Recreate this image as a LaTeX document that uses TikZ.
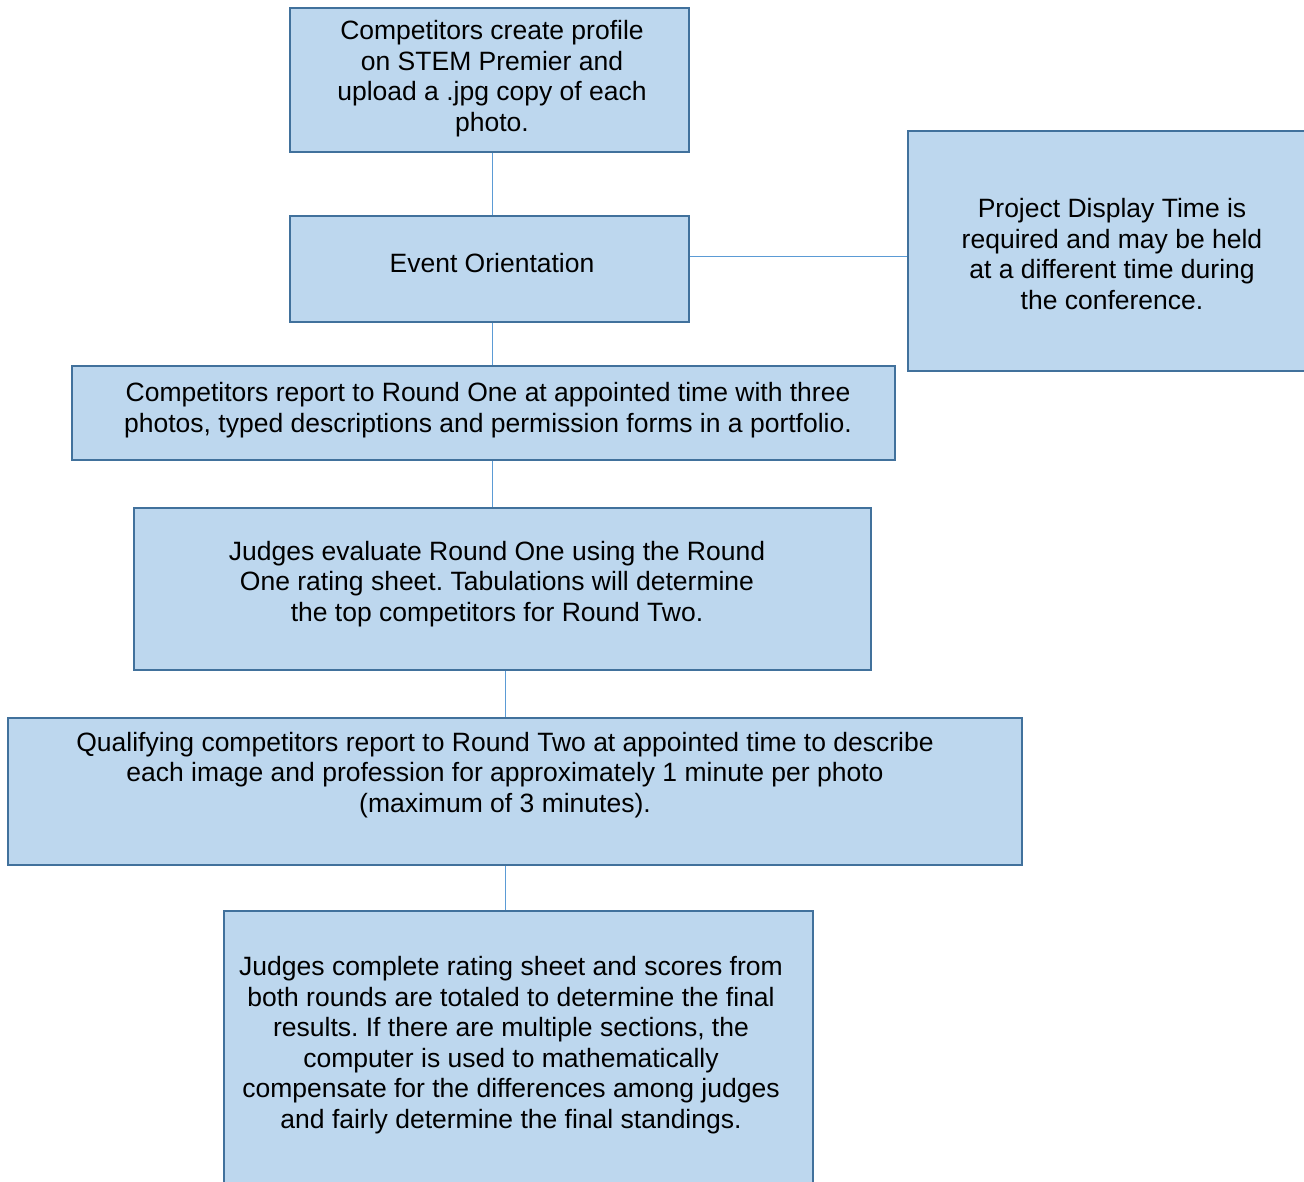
\documentclass[tikz,border=0pt]{standalone}
\usepackage{fontspec}
\setmainfont{Liberation Sans}
\usetikzlibrary{positioning}

\definecolor{boxfill}{HTML}{BDD7EE}
\definecolor{boxline}{HTML}{41719C}
\definecolor{linkline}{HTML}{5B9BD5}

\tikzset{
  box/.style={draw=boxline, fill=boxfill, line width=2pt, inner sep=0pt},
  txt/.style={align=center, inner sep=0pt, font=\fontsize{26.5}{30.5}\selectfont\frenchspacing},
  link/.style={draw=linkline, line width=1pt}
}

\begin{document}
\begin{tikzpicture}[x=1pt, y=-1pt]
  \useasboundingbox (0,0) rectangle (1304,1181);
  \clip (0,0) rectangle (1304,1181);

  % steps of the event
  \node[box, minimum width=399, minimum height=144,
        label={[txt, xshift=2.5pt, yshift=1.5pt]center:{Competitors create profile\\on STEM Premier and\\upload a .jpg copy of each\\photo.}}]
        (profile) at (489.5,80) {};
  \node[box, minimum width=399, minimum height=106,
        label={[txt, xshift=2.5pt, yshift=6pt]center:{Event Orientation}}]
        (orient) at (489.5,269) {};
  \node[box, minimum width=402, minimum height=240,
        label={[txt, xshift=3pt, yshift=-3pt]center:{Project Display Time is\\required and may be held\\at a different time during\\the conference.}}]
        (display) at (1109,251) {};
  \node[box, minimum width=823, minimum height=94,
        label={[txt, xshift=4.5pt, yshift=3pt]center:{Competitors report to Round One at appointed time with three\\photos, typed descriptions and permission forms in a portfolio.}}]
        (roundone) at (483.5,413) {};
  \node[box, minimum width=737, minimum height=162,
        label={[txt, xshift=-5.5pt, yshift=5pt]center:{Judges evaluate Round One using the Round\\One rating sheet. Tabulations will determine\\the top competitors for Round Two.}}]
        (judgeone) at (502.5,589) {};
  \node[box, minimum width=1014, minimum height=147,
        label={[txt, xshift=-10pt, yshift=16.5pt]center:{Qualifying competitors report to Round Two at appointed time to describe\\each image and profession for approximately 1 minute per photo\\(maximum of 3 minutes).}}]
        (roundtwo) at (515,791.5) {};
  \node[box, minimum width=589, minimum height=289,
        label={[txt, xshift=-7.5pt, yshift=10.5pt]center:{Judges complete rating sheet and scores from\\both rounds are totaled to determine the final\\results. If there are multiple sections, the\\computer is used to mathematically\\compensate for the differences among judges\\and fairly determine the final standings.}}]
        (final) at (518.5,1055.5) {};

  % connectors
  \draw[link] ([xshift=2.5pt]profile.south) -- ([xshift=2.5pt]orient.north);
  \draw[link] ([yshift=13pt]orient.east) -- ([yshift=13pt]orient.east -| display.west);
  \draw[link] ([xshift=2.5pt]orient.south) -- ([xshift=2.5pt]orient.south |- roundone.north);
  \draw[link] ([xshift=2.5pt]orient.south |- roundone.south) -- ([xshift=2.5pt]orient.south |- judgeone.north);
  \draw[link] ([xshift=2.5pt]judgeone.south) -- ([xshift=2.5pt]judgeone.south |- roundtwo.north);
  \draw[link] ([xshift=2.5pt]judgeone.south |- roundtwo.south) -- ([xshift=2.5pt]judgeone.south |- final.north);
\end{tikzpicture}
\end{document}
